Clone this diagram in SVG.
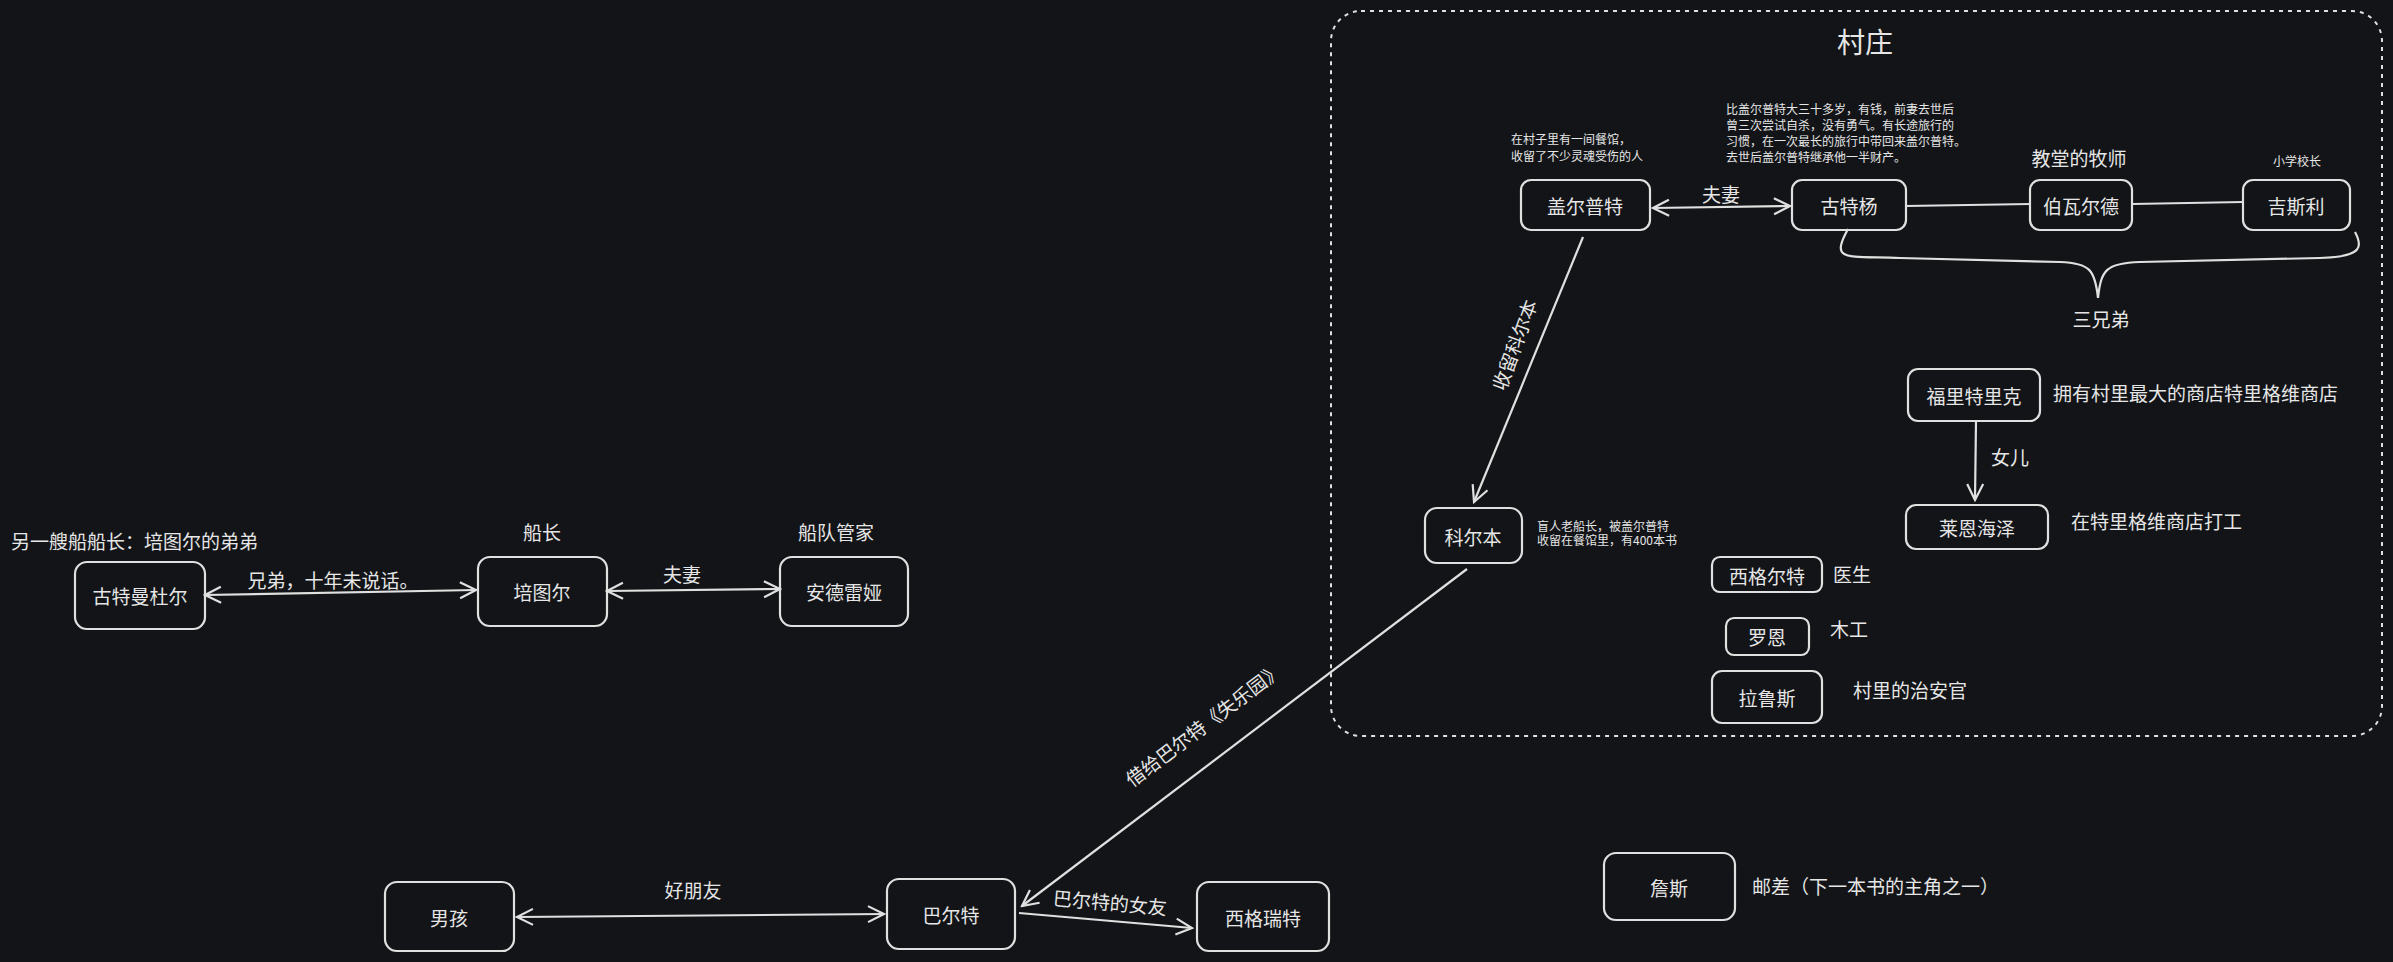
<svg xmlns="http://www.w3.org/2000/svg" width="2393" height="962" viewBox="0 0 2393 962">
<defs>
<marker id="a" viewBox="0 0 20 20" refX="18" refY="10" markerWidth="20" markerHeight="20" markerUnits="userSpaceOnUse" orient="auto-start-reverse"><path d="M2,2 L18,10 L2,18" fill="none" stroke="#e0e0e0" stroke-width="2.2"/></marker>
</defs>
<style>
text{font-family:"Noto Sans CJK SC","Noto Sans",sans-serif;fill:#e6e6e6}
.n rect{fill:none;stroke:#e0e0e0;stroke-width:2.2}
.n text{font-size:19px;text-anchor:middle;dominant-baseline:central}
.l{font-size:19px}
.s{font-size:12px}
.c{fill:none;stroke:#e0e0e0;stroke-width:2.2}
</style>
<rect width="2393" height="962" fill="#121417"/>
<rect x="1331" y="11" width="1051" height="725" rx="30" fill="none" stroke="#e0e0e0" stroke-width="2" stroke-dasharray="4 5"/>
<text x="1865" y="41" font-size="28" text-anchor="middle" dominant-baseline="central">村庄</text>

<g id="connectors">
<path class="c" d="M205,595 L476,590" marker-start="url(#a)" marker-end="url(#a)"/>
<path class="c" d="M607,591 L780,589" marker-start="url(#a)" marker-end="url(#a)"/>
<path class="c" d="M517,917 L884,914" marker-start="url(#a)" marker-end="url(#a)"/>
<path class="c" d="M1019,913 L1192,928" marker-end="url(#a)"/>
<path class="c" d="M1467,569 L1022,906" marker-end="url(#a)"/>
<path class="c" d="M1583,237 L1474,502" marker-end="url(#a)"/>
<path class="c" d="M1653,208 L1790,206" marker-start="url(#a)" marker-end="url(#a)"/>
<path class="c" d="M1906,206 L2030,204"/>
<path class="c" d="M2132,204 L2243,202"/>
<path class="c" d="M1976,421 L1975,500" marker-end="url(#a)"/>
<path class="c" d="M1848,229 C1830,262 1845,256 1900,258 L2060,262 C2090,263 2095,270 2098,298 C2101,270 2106,263 2140,262 L2320,258 C2365,257 2362,245 2355,232"/>
</g>

<g id="n1" class="n"><rect x="75" y="562" width="130" height="67" rx="12"/><text x="140" y="595">古特曼杜尔</text></g>
<g id="n2" class="n"><rect x="478" y="557" width="129" height="69" rx="12"/><text x="542" y="591">培图尔</text></g>
<g id="n3" class="n"><rect x="780" y="557" width="128" height="69" rx="12"/><text x="844" y="591">安德雷娅</text></g>
<g id="n4" class="n"><rect x="385" y="882" width="129" height="69" rx="12"/><text x="449" y="917">男孩</text></g>
<g id="n5" class="n"><rect x="887" y="879" width="128" height="70" rx="12"/><text x="951" y="914">巴尔特</text></g>
<g id="n6" class="n"><rect x="1197" y="882" width="132" height="69" rx="12"/><text x="1263" y="917">西格瑞特</text></g>
<g id="n7" class="n"><rect x="1521" y="180" width="129" height="50" rx="10"/><text x="1585" y="205">盖尔普特</text></g>
<g id="n8" class="n"><rect x="1792" y="180" width="114" height="50" rx="10"/><text x="1849" y="205">古特杨</text></g>
<g id="n9" class="n"><rect x="2030" y="180" width="102" height="50" rx="10"/><text x="2081" y="205">伯瓦尔德</text></g>
<g id="n10" class="n"><rect x="2243" y="180" width="107" height="50" rx="10"/><text x="2296" y="205">吉斯利</text></g>
<g id="n11" class="n"><rect x="1425" y="508" width="97" height="55" rx="12"/><text x="1473" y="536">科尔本</text></g>
<g id="n12" class="n"><rect x="1908" y="369" width="132" height="52" rx="10"/><text x="1974" y="395">福里特里克</text></g>
<g id="n13" class="n"><rect x="1906" y="505" width="142" height="44" rx="10"/><text x="1977" y="527">莱恩海泽</text></g>
<g id="n14" class="n"><rect x="1712" y="557" width="110" height="35" rx="8"/><text x="1767" y="575">西格尔特</text></g>
<g id="n15" class="n"><rect x="1726" y="618" width="83" height="37" rx="8"/><text x="1767" y="636">罗恩</text></g>
<g id="n16" class="n"><rect x="1712" y="671" width="110" height="52" rx="10"/><text x="1767" y="697">拉鲁斯</text></g>
<g id="n17" class="n"><rect x="1604" y="853" width="131" height="67" rx="12"/><text x="1669" y="887" font-size="23">詹斯</text></g>

<g id="labels">
<text class="l" x="11" y="549">另一艘船船长：培图尔的弟弟</text>
<text class="l" x="542" y="540" text-anchor="middle">船长</text>
<text class="l" x="836" y="540" text-anchor="middle">船队管家</text>
<text class="l" x="333" y="588" text-anchor="middle">兄弟，十年未说话。</text>
<text class="l" x="682" y="582" text-anchor="middle">夫妻</text>
<text class="l" x="693" y="898" text-anchor="middle">好朋友</text>
<text class="l" x="1110" y="910" text-anchor="middle" transform="rotate(5 1110 903)">巴尔特的女友</text>
<text class="l" x="1204" y="732" text-anchor="middle" transform="rotate(-37 1204 725)">借给巴尔特《失乐园》</text>
<text class="l" x="1515" y="352" text-anchor="middle" transform="rotate(-70 1515 345)">收留科尔本</text>
<text class="l" x="1721" y="202" text-anchor="middle">夫妻</text>
<text class="l" x="2101" y="327" text-anchor="middle">三兄弟</text>
<text class="l" x="2010" y="465" text-anchor="middle">女儿</text>
<text class="l" x="2053" y="401">拥有村里最大的商店特里格维商店</text>
<text class="l" x="2071" y="529">在特里格维商店打工</text>
<text class="l" x="1833" y="582">医生</text>
<text class="l" x="1830" y="637">木工</text>
<text class="l" x="1853" y="698">村里的治安官</text>
<text class="l" x="1752" y="894">邮差（下一本书的主角之一）</text>
<text class="l" x="2079" y="166" text-anchor="middle" font-size="16">教堂的牧师</text>
<text class="s" x="2297" y="166" text-anchor="middle">小学校长</text>
<text class="s" x="1537" y="531">盲人老船长，被盖尔普特</text>
<text class="s" x="1537" y="545">收留在餐馆里，有400本书</text>
<text class="s" x="1511" y="144">在村子里有一间餐馆，</text>
<text class="s" x="1511" y="161">收留了不少灵魂受伤的人</text>
<text class="s" x="1726" y="114">比盖尔普特大三十多岁，有钱，前妻去世后</text>
<text class="s" x="1726" y="130">曾三次尝试自杀，没有勇气。有长途旅行的</text>
<text class="s" x="1726" y="146">习惯，在一次最长的旅行中带回来盖尔普特。</text>
<text class="s" x="1726" y="162">去世后盖尔普特继承他一半财产。</text>
</g>
</svg>
